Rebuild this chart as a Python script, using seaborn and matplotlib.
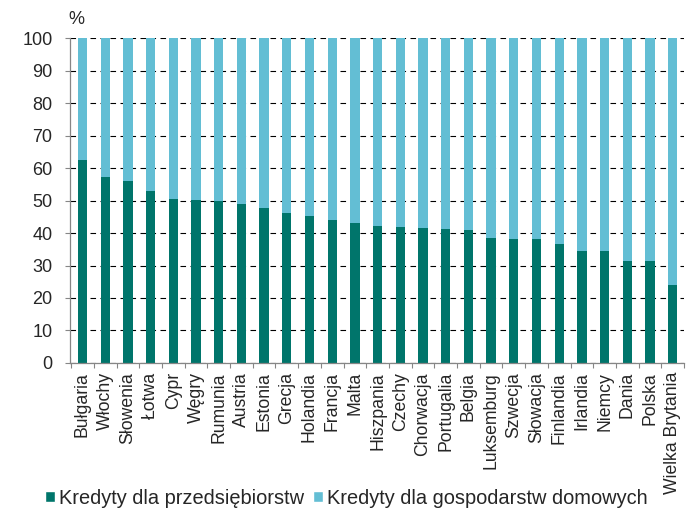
import numpy as np
import pandas as pd
import matplotlib
matplotlib.use("Agg")
import matplotlib.pyplot as plt
from matplotlib.patches import Patch
from matplotlib.ticker import FixedLocator
import seaborn as sns

# dane, % kredytów ogółem
kraje = ['Bułgaria', 'Włochy', 'Słowenia', 'Łotwa', 'Cypr', 'Węgry', 'Rumunia',
         'Austria', 'Estonia', 'Grecja', 'Holandia', 'Francja', 'Malta',
         'Hiszpania', 'Czechy', 'Chorwacja', 'Portugalia', 'Belgia',
         'Luksemburg', 'Szwecja', 'Słowacja', 'Finlandia', 'Irlandia',
         'Niemcy', 'Dania', 'Polska', 'Wielka Brytania']
przedsiebiorstwa = [62.5, 57.3, 56.0, 52.9, 50.5, 50.2, 49.8, 48.9, 47.7, 46.1,
                    45.2, 44.0, 43.2, 42.1, 41.8, 41.5, 41.2, 40.9, 38.5, 38.2,
                    38.2, 36.6, 34.5, 34.5, 31.4, 31.4, 23.9]
gospodarstwa = [100 - v for v in przedsiebiorstwa]

nazwa1 = 'Kredyty dla przedsiębiorstw'
nazwa2 = 'Kredyty dla gospodarstw domowych'
kolor1 = '#00756B'
kolor2 = '#63BED4'

df = pd.DataFrame({'kraj': kraje, 'przed': przedsiebiorstwa, 'gosp': gospodarstwa})
df['suma'] = df['przed'] + df['gosp']

sns.set_style('white')
plt.rcParams['font.family'] = ['Liberation Sans', 'DejaVu Sans']

fig = plt.figure(figsize=(6.9, 5.31), dpi=100)
ax = fig.add_axes([0.1014, 0.3164, 0.89, 0.612])
ax.set_axisbelow(True)

# słupki skumulowane: najpierw całość (jasne), potem przedsiębiorstwa (ciemne)
sns.barplot(data=df, x='kraj', y='suma', color=kolor2, width=0.41,
            saturation=1, linewidth=0, ax=ax, order=kraje)
sns.barplot(data=df, x='kraj', y='przed', color=kolor1, width=0.41,
            saturation=1, linewidth=0, ax=ax, order=kraje)

ax.set_xlim(-0.55, len(kraje) - 0.5)
ax.set_ylim(0, 100)
ax.set_yticks(np.arange(0, 101, 10))
ax.yaxis.grid(True, linestyle=(0, (5, 4)), color='black', linewidth=0.8)
ax.xaxis.grid(False)
ax.set_xlabel('')
ax.set_ylabel('')

for s in ['top', 'right']:
    ax.spines[s].set_visible(False)
for s in ['left', 'bottom']:
    ax.spines[s].set_color('#868686')
    ax.spines[s].set_linewidth(0.9)

ax.tick_params(axis='y', which='major', direction='out', length=3.6, width=0.8,
               color='#868686', pad=9, labelsize=13, left=True)
ax.tick_params(axis='x', which='major', length=0, pad=6.5, labelsize=12.7,
               labelrotation=90)
ax.xaxis.set_minor_locator(FixedLocator(np.arange(-0.5, len(kraje), 1.0)))
ax.tick_params(axis='x', which='minor', direction='out', length=3.6, width=0.8,
               color='#868686', bottom=True)

fig.text(76 / 690, 1 - 20 / 531, '%', fontsize=13, ha='center', va='center')

uchwyty = [Patch(facecolor=kolor1, label=nazwa1),
           Patch(facecolor=kolor2, label=nazwa2)]
fig.legend(handles=uchwyty, loc='center left', ncol=2, frameon=False,
           bbox_to_anchor=(45 / 690, 1 - 498 / 531), fontsize=14.4,
           handlelength=0.5, handleheight=0.5, handletextpad=0.2,
           columnspacing=0.45, borderaxespad=0, borderpad=0)

fig.savefig('out.png', dpi=100)
